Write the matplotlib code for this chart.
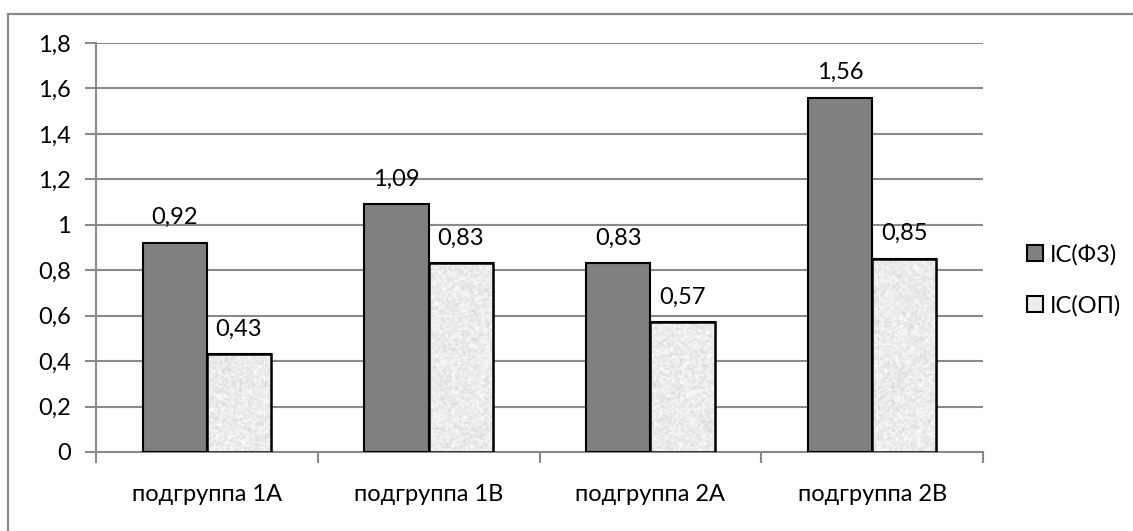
import numpy as np
import matplotlib
matplotlib.use('Agg')
import matplotlib.pyplot as plt
from matplotlib.patches import Rectangle

groups = ['подгруппа 1А', 'подгруппа 1В', 'подгруппа 2А', 'подгруппа 2В']
ic_fz = [0.92, 1.09, 0.83, 1.56]
ic_op = [0.43, 0.83, 0.57, 0.85]
series_names = ['IC(Ф3)', 'IC(ОП)']
y_ticks = [0, 0.2, 0.4, 0.6, 0.8, 1.0, 1.2, 1.4, 1.6, 1.8]


def comma(v):
    return ('%g' % v).replace('.', ',')


plt.rcParams['font.family'] = ['Lato', 'DejaVu Sans']
fs = 17

fig = plt.figure(figsize=(11.33, 5.31), dpi=100)
# outer chart frame
fig.patches.append(Rectangle((8 / 1133, -0.1), 1.2, 1 - 14 / 531 + 0.1,
                             transform=fig.transFigure, fill=False,
                             edgecolor='#8a8a8a', linewidth=1.6))

ax = fig.add_axes([96 / 1133, 79 / 531, 887 / 1133, 409 / 531])

x = np.arange(len(groups))
w = 0.29
dark = ax.bar(x - w / 2, ic_fz, w, color='#808080', edgecolor='black',
              linewidth=1.5, zorder=3, label=series_names[0])
light = ax.bar(x + w / 2, ic_op, w, color='#ededed', edgecolor='black',
               linewidth=1.5, zorder=3, label=series_names[1])

# speckled fill for the second series
rng = np.random.default_rng(7)
for bar in light:
    bx, by = bar.get_x(), bar.get_y()
    bw, bh = bar.get_width(), bar.get_height()
    noise = 0.925 + 0.035 * rng.standard_normal((int(bh * 120) + 2, 30))
    noise = np.clip(noise, 0.8, 1.0)
    im = ax.imshow(noise, cmap='gray', vmin=0, vmax=1, aspect='auto',
                   extent=(bx, bx + bw, by, by + bh), zorder=3.5,
                   interpolation='bilinear')
    im.set_clip_path(bar)
    edge = Rectangle((bx, by), bw, bh, fill=False, edgecolor='black',
                     linewidth=1.8, zorder=4)
    ax.add_patch(edge)

for bars, vals in ((dark, ic_fz), (light, ic_op)):
    for bar, v in zip(bars, vals):
        ax.text(bar.get_x() + bar.get_width() / 2, v + 0.083, comma(v),
                ha='center', va='baseline', fontsize=fs, zorder=5)

ax.set_xlim(-0.5, len(groups) - 0.5)
ax.set_ylim(0, 1.8)
ax.set_yticks(y_ticks)
ax.set_yticklabels([comma(t) for t in y_ticks], fontsize=fs)
ax.set_xticks(x)
ax.set_xticklabels(groups, fontsize=fs)
ax.set_xticks(np.arange(len(groups) + 1) - 0.5, minor=True)
ax.tick_params(axis='x', which='major', length=0, pad=23)
ax.tick_params(axis='x', which='minor', length=8, width=1.5, color='#8a8a8a')
ax.tick_params(axis='y', length=8, width=1.5, color='#8a8a8a', pad=10)
ax.yaxis.grid(True, color='#8a8a8a', linewidth=1.5, zorder=0)
ax.set_axisbelow(True)
for s in ('top', 'right'):
    ax.spines[s].set_visible(False)
for s in ('left', 'bottom'):
    ax.spines[s].set_color('#8a8a8a')
    ax.spines[s].set_linewidth(1.5)

ax.legend(loc='center left', bbox_to_anchor=(1.026, 0.42), frameon=False,
          handlelength=0.65, handleheight=0.65, handletextpad=0.3,
          labelspacing=1.25, fontsize=fs)

fig.savefig('out.png', dpi=100)
